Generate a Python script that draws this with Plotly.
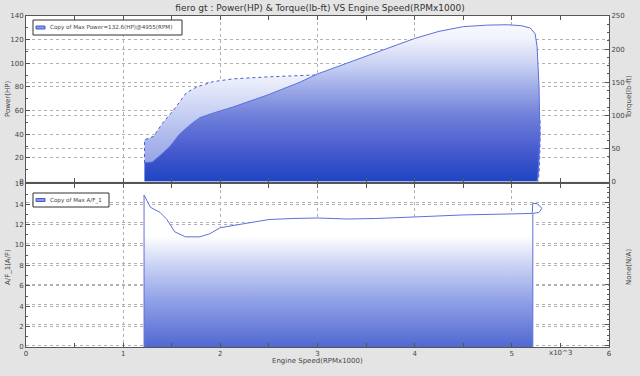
import plotly.graph_objects as go

# ---- data ----
power_rpm = [1.22, 1.30, 1.38, 1.48, 1.58, 1.69, 1.79, 1.93, 2.13, 2.48, 2.82, 3.0, 3.3, 3.6,
             3.85, 4.0, 4.25, 4.5, 4.75, 4.955, 5.1, 5.19, 5.24, 5.26, 5.28, 5.29, 5.27, 5.26]
power_hp = [16, 16.5, 22, 29.5, 40, 48, 54, 58, 63, 73, 84, 91, 100, 109,
            117, 121, 127, 131, 132.3, 132.6, 131.8, 129.8, 125, 114, 80, 38, 7.6, 0]

torque_rpm = [1.22, 1.22, 1.31, 1.41, 1.52, 1.65, 1.76, 1.93, 2.13, 2.48, 2.99, 3.5, 4.0,
              4.5, 5.0, 5.19, 5.26, 5.29, 5.29, 5.28, 5.27]
torque_lbft = [28, 63, 68, 89, 108, 134, 143, 151, 155, 158, 161, 161, 160,
               150, 139, 128, 108, 93, 50, 12, 0]

af_rpm = [1.215, 1.215, 1.28, 1.38, 1.45, 1.53, 1.64, 1.79, 1.89, 2.0, 2.25, 2.5, 2.75, 3.0,
          3.3, 3.6, 4.0, 4.5, 5.0, 5.21, 5.216, 5.26, 5.31, 5.28, 5.22, 5.216, 5.216]
af_ratio = [0, 14.9, 13.7, 13.2, 12.5, 11.3, 10.8, 10.8, 11.1, 11.7, 12.1, 12.5, 12.6, 12.65,
            12.55, 12.6, 12.75, 12.95, 13.05, 13.1, 14.1, 14.05, 13.6, 13.2, 13.1, 13.1, 0]

title_text = "fiero gt : Power(HP) & Torque(lb-ft) VS Engine Speed(RPMx1000)"
power_legend = "Copy of Max Power=132.6(HP)@4955(RPM)"
af_legend = "Copy of Max A/F_1"

FONT = "DejaVu Sans"
AX = "#555555"
GRID = "#b0b0b0"

fig = go.Figure()

# Torque (drawn first, on the underlying axis y)
fig.add_trace(go.Scatter(
    x=torque_rpm, y=torque_lbft, yaxis="y", xaxis="x", mode="lines",
    line=dict(color="#4a5cc8", width=1, dash="dot"),
    fill="tozeroy",
    fillgradient=dict(type="vertical", start=0, stop=250,
                      colorscale=[[0, "#8898e2"], [0.25, "#aab6ec"], [0.45, "#cdd5f4"],
                                  [0.6, "#e9ecfa"], [0.7, "#f8f9fe"], [1, "#ffffff"]]),
    showlegend=False, hoverinfo="skip"))

# Power (on overlaying axis y2, drawn on top)
fig.add_trace(go.Scatter(
    x=power_rpm, y=power_hp, yaxis="y2", xaxis="x", mode="lines",
    line=dict(color="#5a6fd8", width=1),
    fill="tozeroy",
    fillgradient=dict(type="vertical", start=0, stop=140,
                      colorscale=[[0, "#1f45c4"], [0.1, "#3350c8"], [0.2, "#4a5dcf"],
                                  [0.4, "#7080da"], [0.55, "#9aa7e6"], [0.7, "#c8d0f3"],
                                  [0.85, "#eef0fb"], [1, "#ffffff"]]),
    name=power_legend, showlegend=False))

# A/F
fig.add_trace(go.Scatter(
    x=af_rpm, y=af_ratio, yaxis="y3", xaxis="x2", mode="lines",
    line=dict(color="#5f70d8", width=1),
    fill="tozeroy",
    fillgradient=dict(type="vertical", start=0, stop=16,
                      colorscale=[[0, "#5068d2"], [0.3, "#94a4e8"], [0.55, "#d8def6"],
                                  [0.68, "#ffffff"], [1, "#ffffff"]]),
    name=af_legend, showlegend=False))

# dummy trace for bottom right axis
fig.add_trace(go.Scatter(x=[None], y=[None], yaxis="y4", xaxis="x2", showlegend=False))

tickfont = dict(family=FONT, size=7, color="#444")
common_ax = dict(showline=True, linecolor=AX, linewidth=1,
                 ticks="inside", ticklen=4, tickcolor=AX, tickfont=tickfont,
                 gridcolor=GRID, griddash="dot", gridwidth=1, zeroline=False,
                 automargin=False)

fig.update_layout(
    width=640, height=376,
    margin=dict(l=26, r=31, t=16, b=29),
    paper_bgcolor="#e4e4e4", plot_bgcolor="white",
    font=dict(family=FONT, size=7, color="#444"),
    showlegend=False,
    title=dict(text=title_text, x=0.5, xanchor="center", y=1 - 8 / 376, yanchor="middle",
               font=dict(family=FONT, size=9, color="#333"), automargin=False),
    xaxis=dict(domain=[0, 1], anchor="y", range=[0, 6], dtick=1, showticklabels=False,
               mirror="ticks",
               minor=dict(dtick=0.5, ticks="inside", ticklen=4, tickcolor=AX, showgrid=False),
               **common_ax),
    yaxis=dict(domain=[0.5, 1], anchor="x", side="right", range=[0, 250], dtick=50,
               minor=dict(dtick=12.5, ticks="inside", ticklen=2, tickcolor=AX, showgrid=False),
               **common_ax),
    yaxis2=dict(overlaying="y", anchor="x", side="left", range=[0, 140], dtick=20,
                minor=dict(dtick=10, ticks="inside", ticklen=2, tickcolor=AX, showgrid=False),
                **common_ax),
    xaxis2=dict(domain=[0, 1], anchor="y3", range=[0, 6], dtick=1, mirror="ticks",
                minor=dict(dtick=0.5, ticks="inside", ticklen=4, tickcolor=AX, showgrid=False),
                **common_ax),
    yaxis3=dict(domain=[0, 0.493], anchor="x2", side="left", range=[0, 16], dtick=2,
                minor=dict(dtick=1, ticks="inside", ticklen=2, tickcolor=AX, showgrid=False),
                **common_ax),
    yaxis4=dict(overlaying="y3", anchor="x2", side="right", range=[-0.17, 15.83], dtick=2,
                showticklabels=False,
                minor=dict(dtick=0.5, ticks="inside", ticklen=2, tickcolor=AX, showgrid=False),
                **common_ax),
)

PW = 583
PH = 331


def px_x(p):
    return (p - 26) / PW


def px_y(p):
    return (347 - p) / PH


# manual legend boxes (pixel-placed, paper coordinates)
legend_boxes = [
    (33, 20, 182, 35, power_legend),
    (33, 193, 109, 207, af_legend),
]
for x0, y0, x1, y1, label in legend_boxes:
    ym = (y0 + y1) / 2
    fig.add_shape(type="rect", xref="paper", yref="paper",
                  x0=px_x(x0), x1=px_x(x1), y0=px_y(y1), y1=px_y(y0),
                  line=dict(color="#333", width=1), fillcolor="white", layer="above")
    fig.add_shape(type="rect", xref="paper", yref="paper",
                  x0=px_x(36), x1=px_x(45), y0=px_y(ym + 1.5), y1=px_y(ym - 1.5),
                  line=dict(color="#4a5cc8", width=1), fillcolor="#8a9ae4", layer="above")
    fig.add_annotation(text=label, x=px_x(48), y=px_y(ym), xref="paper", yref="paper",
                       showarrow=False, xanchor="left", yanchor="middle",
                       font=dict(family=FONT, size=5.6, color="#444"))

ann_font = dict(family=FONT, size=7, color="#444")
fig.add_annotation(text="Power(HP)", x=px_x(8), y=px_y(99), xref="paper", yref="paper",
                   showarrow=False, textangle=-90, font=ann_font,
                   xanchor="center", yanchor="middle")
fig.add_annotation(text="Torque(lb-ft)", x=px_x(629), y=px_y(97), xref="paper",
                   yref="paper", showarrow=False, textangle=-90, font=ann_font,
                   xanchor="center", yanchor="middle")
fig.add_annotation(text="A/F_1(A/F)", x=px_x(8), y=px_y(267), xref="paper",
                   yref="paper", showarrow=False, textangle=-90, font=ann_font,
                   xanchor="center", yanchor="middle")
fig.add_annotation(text="None(N/A)", x=px_x(629), y=px_y(267), xref="paper",
                   yref="paper", showarrow=False, textangle=-90, font=ann_font,
                   xanchor="center", yanchor="middle")
fig.add_annotation(text="Engine Speed(RPMx1000)", x=0.5, y=px_y(361), xref="paper",
                   yref="paper", showarrow=False, font=ann_font,
                   xanchor="center", yanchor="middle")
fig.add_annotation(text="x10^3", x=5.5, y=px_y(353), xref="x2", yref="paper",
                   showarrow=False, font=ann_font, xanchor="center", yanchor="middle")

fig.write_html("out.html", config={"displayModeBar": False},
               post_script="document.body.style.margin='0';")
